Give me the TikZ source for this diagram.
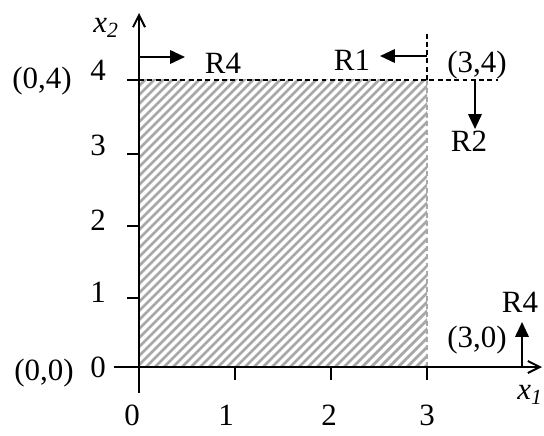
\documentclass[tikz,border=0pt]{standalone}
\usepackage{fontspec}
\setmainfont{Liberation Serif}
\usetikzlibrary{arrows.meta, positioning}
\definecolor{hatchgray}{RGB}{168,168,168}
\tikzset{
  lbl/.style={inner sep=0pt, font=\fontsize{22}{26}\selectfont},
  axisline/.style={line width=1.4pt, -{Straight Barb[length=8.5pt, width=8.5pt, line width=1.4pt]}},
  move/.style={line width=1.4pt, -{Triangle[length=10.5pt, width=9.5pt]}},
  bound/.style={line width=1pt, dash pattern=on 3.5pt off 2.4pt}
}

\begin{document}
\begin{tikzpicture}[x=0.025cm, y=0.025cm,
    tick/.style={line width=1.4pt}
  ]
  \useasboundingbox (-139,-68) rectangle (405,367);

  % feasible region
  \begin{scope}
    \clip (0,0) rectangle (288,287);
    \foreach \c in {-300,-291,...,300}
      \draw[hatchgray, line width=2pt] (\c,-10) -- (\c+320,310);
  \end{scope}
  \draw[hatchgray, line width=1pt, dash pattern=on 3.5pt off 2.4pt] (288,0) -- (288,287);

  % axes
  \coordinate (o) at (0,0);
  \coordinate (xa) at (-25,0);
  \coordinate (xb) at (403,0);
  \coordinate (ya) at (0,-26);
  \coordinate (yb) at (0,354);
  \draw[axisline] (xa) -- (xb);
  \draw[axisline] (ya) -- (yb);
  \node[lbl] (x1) at (391,-28) {\textit{x\textsubscript{1}}};
  \node[lbl] (x2) at (-33,339) {\textit{x\textsubscript{2}}};

  \foreach \x/\t/\p in {0/0/-7, 96/1/87, 192/2/190, 288/3/288}
    \draw[tick] (\x,0) -- (\x,-13) node[lbl] at (\p,-48) {\t};
  \foreach \y/\t/\p in {69/1/75, 141/2/147, 213/3/222, 287/4/297}
    \draw[tick] (-12,\y) -- (0,\y) node[lbl] at (-41,\p) {\t};
  \node[lbl] (n0) at (-41,0) {0};

  % bounds
  \coordinate (c04) at (0,287);
  \coordinate (c34) at (288,287);
  \coordinate (c30) at (288,0);
  \coordinate (hend) at (359,287);
  \coordinate (vend) at (288,335);
  \draw[bound] (c04) -- (hend);
  \draw[bound] (c34) -- (vend);

  \node[lbl] (p04) at (-97,286) {(0,4)};
  \node[lbl] (p00) at (-95,-6) {(0,0)};
  \node[lbl] (p34) at (338,302) {(3,4)};
  \node[lbl] (p30) at (338,27) {(3,0)};

  % moves
  \coordinate (a4) at (0,310);
  \coordinate (a4e) at (46,310);
  \coordinate (a1) at (288,311);
  \coordinate (a1e) at (241,311);
  \coordinate (a2) at (336,287);
  \coordinate (a2e) at (336,238);
  \coordinate (a5) at (383,0);
  \coordinate (a5e) at (383,45);
  \node[lbl] (r4t) at (84,304) {R4};
  \node[lbl] (r1) at (213,307) {R1};
  \node[lbl] (r2) at (330,226) {R2};
  \node[lbl] (r4b) at (381,65) {R4};
  \draw[move] (a4) -- (a4e);
  \draw[move] (a1) -- (a1e);
  \draw[move] (a2) -- (a2e);
  \draw[move] (a5) -- (a5e);

\end{tikzpicture}
\end{document}
